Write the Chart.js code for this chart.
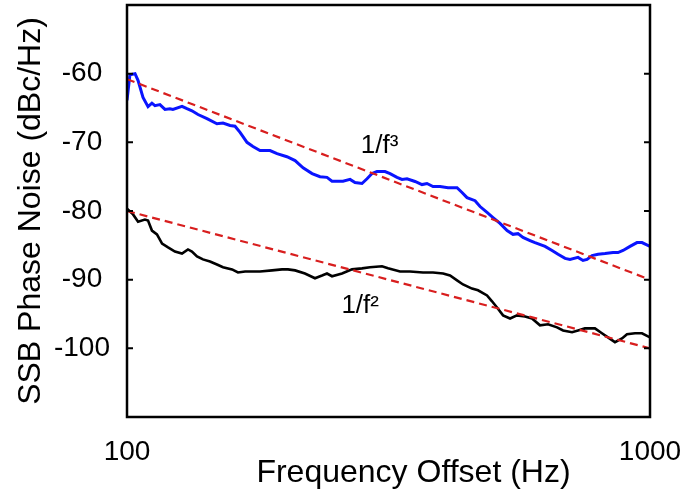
<!DOCTYPE html>
<html>
<head>
<meta charset="utf-8">
<script src="https://cdn.jsdelivr.net/npm/chart.js@4.4.1/dist/chart.umd.min.js"></script>
<style>
    html, body { margin: 0; padding: 0; background: #fff; }
    #wrap { width: 686px; height: 499px; position: relative; }
</style>
</head>
<body>
<div id="wrap"><canvas id="noiseChart"></canvas></div>
<script>
// ---- values ----
const blueFreq = [100, 101.3, 103.6, 105.0, 107.3, 109.7, 111.6, 113.1, 115.6, 118.2, 120.8, 122.4, 127.4, 130.2, 133.1, 136.7, 142.2, 148.6, 152.6, 157.4, 160.9, 164.5, 169.6, 174.1, 179.6, 187.7, 193.6, 202.2, 209.6, 217.1, 225.9, 233.9, 241.2, 246.6, 258.8, 267.0, 272.9, 281.4, 287.7, 294.1, 300.6, 311.4, 318.4, 328.3, 335.6, 343.1, 355.4, 366.5, 374.6, 384.7, 396.8, 411.0, 427.6, 437.1, 446.8, 462.9, 473.2, 488.0, 501.0, 516.7, 533.0, 547.0, 559.2, 571.7, 589.6, 602.6, 630.0, 649.7, 667.1, 688.0, 703.1, 728.4, 744.6, 757.9, 774.8, 795.6, 820.4, 849.8, 868.6, 888.0, 915.8, 944.3, 965.4, 1000];
const blueNoise = [-63.9, -60.15, -60.0, -61.0, -63.45, -64.8, -64.3, -64.65, -64.5, -65.2, -65.1, -65.2, -64.75, -65.1, -65.4, -65.95, -66.55, -67.3, -67.2, -67.55, -67.65, -68.55, -70.0, -70.6, -71.2, -71.2, -71.65, -72.1, -72.65, -73.7, -74.55, -75.0, -75.1, -75.65, -75.65, -75.4, -75.85, -76.0, -75.3, -74.55, -74.25, -74.25, -74.55, -75.1, -75.4, -75.3, -75.7, -76.15, -76.0, -76.45, -76.45, -76.6, -76.6, -77.3, -78.05, -78.5, -79.35, -80.2, -80.95, -81.8, -82.85, -83.4, -83.3, -83.85, -84.3, -84.6, -85.15, -85.75, -86.3, -86.9, -87.05, -86.75, -87.2, -87.05, -86.5, -86.3, -86.2, -86.05, -86.05, -85.75, -85.15, -84.6, -84.6, -85.15];

const blackFreq = [100, 102.7, 105.0, 108.2, 109.7, 111.6, 114.1, 116.7, 119.8, 123.5, 127.4, 130.8, 133.1, 136.1, 139.7, 144.1, 148.6, 152.6, 158.8, 163.0, 168.2, 179.6, 189.4, 197.9, 203.1, 209.6, 218.9, 228.8, 236.0, 241.2, 246.6, 257.7, 269.3, 281.4, 291.5, 307.3, 315.6, 332.7, 347.6, 368.1, 384.7, 402.1, 414.6, 427.6, 439.0, 456.7, 469.0, 488.0, 498.8, 509.9, 523.6, 540.1, 556.8, 576.8, 594.8, 616.1, 638.3, 664.1, 681.9, 709.5, 728.4, 750.8, 784.7, 809.3, 831.0, 857.1, 884.1, 903.7, 936.1, 965.4, 1000];
const blackNoise = [-79.65, -80.5, -81.55, -81.25, -81.4, -82.85, -83.4, -84.75, -85.3, -85.9, -86.2, -85.6, -85.9, -86.6, -87.05, -87.35, -87.8, -88.2, -88.5, -88.95, -88.8, -88.8, -88.65, -88.5, -88.5, -88.65, -89.1, -89.8, -89.4, -89.1, -89.5, -89.1, -88.5, -88.35, -88.2, -88.05, -88.35, -88.8, -88.8, -88.95, -88.95, -89.1, -89.4, -90.1, -90.7, -91.3, -91.55, -92.3, -93.15, -94.05, -95.2, -95.65, -95.2, -95.35, -95.65, -96.65, -96.5, -96.95, -97.4, -97.65, -97.4, -97.1, -97.1, -97.8, -98.4, -99.1, -98.55, -97.95, -97.8, -97.8, -98.4];

// slope guides (1/f^3 and 1/f^2)
const guideFreq = [100, 1000];
const guideF3 = [-60.8, -90];
const guideF2 = [-80, -100];

const slopeLabels = ['1/f³', '1/f²'];
const slopeLabelFreq = [280, 257];
const slopeLabelNoise = [-71.5, -94.9];

const xTicks = [100, 1000];
const yTicks = [-100, -90, -80, -70, -60];
const xTitle = 'Frequency Offset (Hz)';

const FONT = '"Liberation Sans", Arial, Helvetica, sans-serif';

function pts(xs, ys) {
    return xs.map((x, i) => ({ x: x, y: ys[i] }));
}

function noEdgePadding(s) {
    s.paddingTop = 0; s.paddingBottom = 0;
    s.paddingLeft = 0; s.paddingRight = 0;
}

// box around the plot + inward y ticks on both sides
const framePlugin = {
    id: 'frame',
    afterDatasetsDraw(chart) {
        const { ctx, chartArea: a, scales: { y } } = chart;
        ctx.save();
        ctx.strokeStyle = '#000';
        ctx.lineWidth = 2;
        yTicks.forEach(v => {
            const py = y.getPixelForValue(v);
            ctx.beginPath();
            ctx.moveTo(a.left, py); ctx.lineTo(a.left + 6, py);
            ctx.moveTo(a.right, py); ctx.lineTo(a.right - 6, py);
            ctx.stroke();
        });
        ctx.lineWidth = 2.5;
        ctx.strokeRect(a.left, a.top, a.right - a.left, a.bottom - a.top);
        ctx.restore();
    }
};

// slope annotations and the x title (sits right of the plot centre in the original)
const textPlugin = {
    id: 'texts',
    afterDraw(chart) {
        const { ctx, chartArea: a, scales: { x, y } } = chart;
        ctx.save();
        ctx.fillStyle = '#000';
        ctx.font = '26px ' + FONT;
        ctx.textAlign = 'left';
        ctx.textBaseline = 'alphabetic';
        slopeLabels.forEach((t, i) => {
            ctx.fillText(t, x.getPixelForValue(slopeLabelFreq[i]), y.getPixelForValue(slopeLabelNoise[i]));
        });
        ctx.font = '32px ' + FONT;
        ctx.textAlign = 'center';
        ctx.textBaseline = 'middle';
        ctx.fillText(xTitle, (a.left + a.right) / 2 + 25, a.bottom + 56);
        ctx.restore();
    }
};

const guideStyle = {
    borderColor: '#d81e1e',
    borderWidth: 2.2,
    borderDash: [8, 5],
    pointRadius: 0,
    fill: false,
};

new Chart(document.getElementById('noiseChart'), {
    type: 'line',
    data: {
        datasets: [
            { data: pts(guideFreq, guideF3), ...guideStyle },
            { data: pts(guideFreq, guideF2), ...guideStyle },
            { data: pts(blueFreq, blueNoise), borderColor: '#0a14ff', borderWidth: 3, pointRadius: 0, fill: false },
            { data: pts(blackFreq, blackNoise), borderColor: '#000', borderWidth: 2.6, pointRadius: 0, fill: false },
        ]
    },
    options: {
        responsive: true,
        maintainAspectRatio: false,
        animation: false,
        layout: { padding: { top: 5, right: 36, left: 0, bottom: 0 } },
        plugins: { legend: { display: false }, tooltip: { enabled: false } },
        elements: { line: { tension: 0 } },
        scales: {
            x: {
                type: 'logarithmic',
                min: 100,
                max: 1000,
                afterBuildTicks: s => { s.ticks = xTicks.map(v => ({ value: v })); },
                afterFit: s => { s.height = 82; noEdgePadding(s); },
                grid: { display: false },
                border: { display: false },
                ticks: { color: '#000', font: { family: FONT, size: 28 }, padding: 10, maxRotation: 0, autoSkip: false, callback: v => String(v) },
                title: { display: false }
            },
            y: {
                min: -110,
                max: -50,
                afterBuildTicks: s => { s.ticks = yTicks.map(v => ({ value: v })); },
                afterFit: s => { s.width = 127; noEdgePadding(s); },
                grid: { display: false },
                border: { display: false },
                ticks: { color: '#000', font: { family: FONT, size: 28 }, padding: 9, crossAlign: 'center', callback: v => String(v) },
                title: { display: true, text: 'SSB Phase Noise (dBc/Hz)', color: '#000', font: { family: FONT, size: 32 }, padding: { top: 12, bottom: 0 } }
            }
        }
    },
    plugins: [framePlugin, textPlugin]
});
</script>
</body>
</html>
